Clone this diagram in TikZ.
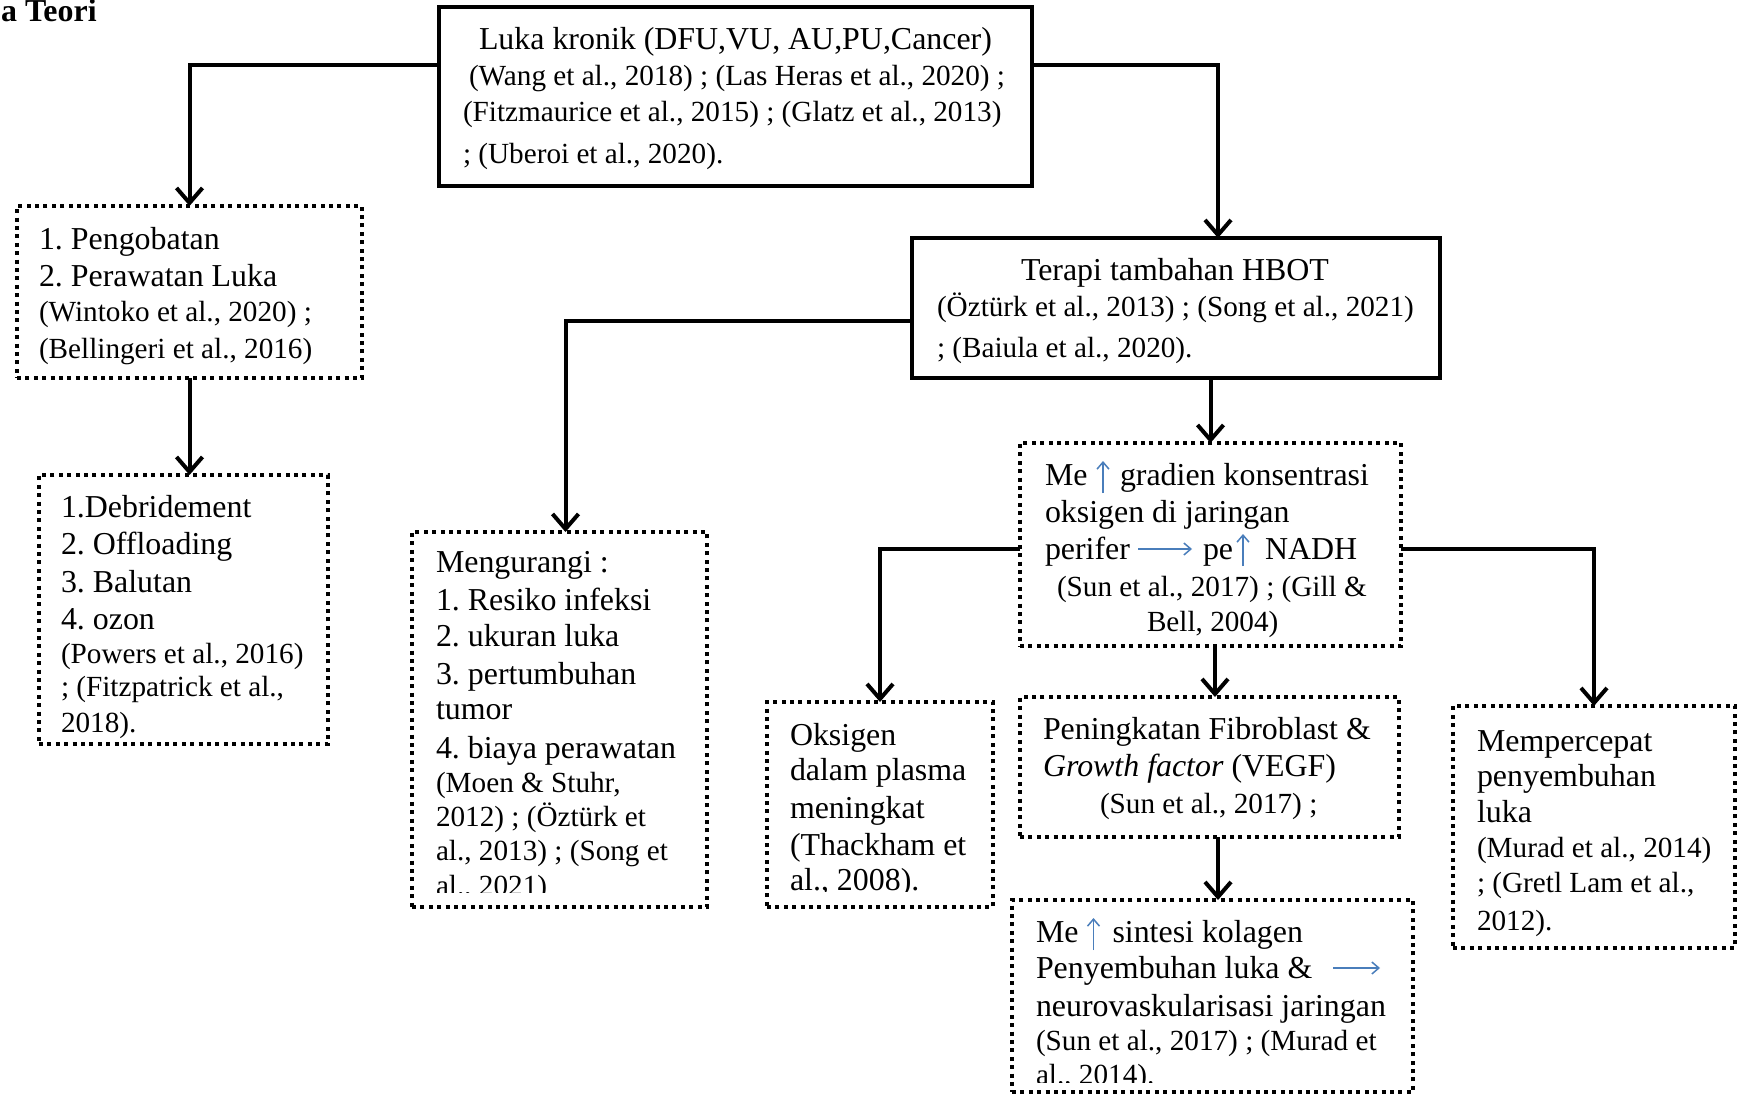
\documentclass[tikz,border=0pt]{standalone}
\usepackage{fontspec}
\setmainfont{Liberation Serif}
\usepackage{graphicx}
\usetikzlibrary{arrows.meta,calc}
\setlength{\parindent}{0pt}
\frenchspacing
\definecolor{arrowblue}{RGB}{74,126,187}
\newcommand{\mainsz}{\fontsize{31.9}{37}\selectfont}
\newcommand{\citesz}{\fontsize{29.2}{34}\selectfont}

\begin{document}
\begin{tikzpicture}[x=1pt,y=-1pt,
  bx/.style={draw, line width=4pt, inner sep=0pt, outer sep=0pt, anchor=north west},
  solidbox/.style={bx},
  dotbox/.style={bx, dash pattern=on 4pt off 4.4pt},
  conn/.style={line width=4pt, -{Straight Barb[length=15pt,width=26pt]}},
  bluearr/.style={draw=arrowblue, line width=1.5pt, -{Straight Barb[length=7pt,width=12pt]}},
  txt/.style={anchor=base west, inner sep=0pt, outer sep=0pt, text width=640pt, align=flush left, font=\mainsz\frenchspacing},
]
\fill[white] (0,0) rectangle (1738,1094);
\useasboundingbox (0,0) rectangle (1738,1094);

% title (cut off in the reference)
\node[anchor=base west, inner sep=0pt, font=\mainsz\bfseries] (title) at (1,22) {a Teori};

% boxes
\node[solidbox, minimum width=593pt, minimum height=179pt] (top) at (439,7) {};
\node[solidbox, minimum width=528pt, minimum height=140pt] (hbot) at (912,238) {};
\node[dotbox, minimum width=345pt, minimum height=172pt] (b1) at (17,206) {};
\node[dotbox, minimum width=289pt, minimum height=269pt] (b2) at (39,475) {};
\node[dotbox, minimum width=295pt, minimum height=375pt] (meng) at (412,532) {};
\node[dotbox, minimum width=381pt, minimum height=203pt] (me) at (1020,443) {};
\node[dotbox, minimum width=226pt, minimum height=205pt] (oks) at (767,702) {};
\node[dotbox, minimum width=379pt, minimum height=140pt] (pen) at (1020,697) {};
\node[dotbox, minimum width=401pt, minimum height=192pt] (sin) at (1012,900) {};
\node[dotbox, minimum width=282pt, minimum height=242pt] (mem) at (1453,706) {};

% texts
\node[txt] (toptext) at (463,50) {\hspace*{16pt}Luka kronik (DFU,VU, AU,PU,Cancer)\\[2pt]
  \citesz\hspace*{6pt}(Wang et al., 2018) ; (Las Heras et al., 2020) ;\\[2pt]
  (Fitzmaurice et al., 2015) ; (Glatz et al., 2013)\\[5pt]
  ; (Uberoi et al., 2020).};

\node[txt] (hbottext) at (937,280) {\hspace*{84pt}Terapi tambahan HBOT\\[2pt]
  \citesz (Öztürk et al., 2013) ; (Song et al., 2021)\\[4pt]
  ; (Baiula et al., 2020).};

\node[txt] (b1text) at (39,250) {1. Pengobatan\\[0pt]
  2. Perawatan Luka\\[1pt]
  \citesz (Wintoko et al., 2020) ;\\
  (Bellingeri et al., 2016)};

\node[txt] (b2text) at (61,517) {1.Debridement\\
  2. Offloading\\[1pt]
  3. Balutan\\
  4. ozon\\[0pt]
  \citesz (Powers et al., 2016)\\[-1pt]
  ; (Fitzpatrick et al.,\\[-1pt]
  2018).};

\begin{scope}
\clip (414,534) rectangle (705,892);
\node[txt] (mengtext) at (436,572) {Mengurangi :\\[1pt]
  1. Resiko infeksi\\[-1pt]
  2. ukuran luka\\[1pt]
  3. pertumbuhan\\[-2pt]
  tumor\\[2pt]
  4. biaya perawatan\\
  \citesz (Moen \& Stuhr,\\
  2012) ; (Öztürk et\\
  al., 2013) ; (Song et\\[-2pt]
  al., 2021)};
\end{scope}

\node[txt] (metext) at (1045,485) {Me\hspace{32.5pt}gradien konsentrasi\\
  oksigen di jaringan\\
  perifer\hspace{73pt}pe\hspace{32pt}NADH\\[3pt]
  \citesz\hspace*{12pt}(Sun et al., 2017) ; (Gill \&\\[-2pt]
  \hspace*{102pt}Bell, 2004)};

\begin{scope}
\clip (769,704) rectangle (991,891);
\node[txt] (okstext) at (790,745) {Oksigen\\[-2pt]
  dalam plasma\\[1pt]
  meningkat\\
  (Thackham et\\[-2pt]
  al., 2008).};
\end{scope}

\node[txt] (pentext) at (1043,739) {Peningkatan Fibroblast \&\\
  \textit{Growth factor} (VEGF)\\[0pt]
  \citesz\hspace*{57pt}(Sun et al., 2017) ;};

\begin{scope}
\clip (1014,902) rectangle (1411,1082);
\node[txt] (sintext) at (1036,942) {Me\hspace{34pt}sintesi kolagen\\[-1pt]
  Penyembuhan luka \&\\[1pt]
  neurovaskularisasi jaringan\\
  \citesz (Sun et al., 2017) ; (Murad et\\[-3pt]
  al., 2014).};
\end{scope}

\node[txt] (memtext) at (1477,751) {Mempercepat\\[-2pt]
  penyembuhan\\[-1pt]
  luka\\[1pt]
  \citesz (Murad et al., 2014)\\[1pt]
  ; (Gretl Lam et al.,\\[1pt]
  2012).};

% blue inline arrows
\draw[bluearr] ($(metext.base west)+(58,8)$) -- ($(metext.base west)+(58,-24)$);
\draw[bluearr] ($(metext.base west)+(93,64)$) -- ($(metext.base west)+(147,64)$);
\draw[bluearr] ($(metext.base west)+(198,81)$) -- ($(metext.base west)+(198,49)$);
\draw[bluearr] ($(sintext.base west)+(57.5,8)$) -- ($(sintext.base west)+(57.5,-24)$);
\draw[bluearr] ($(sintext.base west)+(297,26)$) -- ($(sintext.base west)+(344,26)$);

% connectors
\draw[conn] ([yshift=31.5pt]top.west) -| (b1.north);
\draw[conn] ([yshift=31.5pt]top.east) -| ([xshift=42pt]hbot.north);
\draw[conn] (b1.south) -- (b1.south |- b2.north);
\draw[conn] ([yshift=-13pt]hbot.west) -| ([xshift=6pt]meng.north);
\draw[conn] (hbot.south -| me.north) -- (me.north);
\draw[conn] ([yshift=-4.5pt]me.west) -| (oks.north);
\draw[conn] ([yshift=-4.5pt]me.east) -| (mem.north);
\draw[conn] ([xshift=4.5pt]me.south) -- ([xshift=4.5pt]me.south |- pen.north);
\draw[conn] ([xshift=8.5pt]pen.south) -- ([xshift=8.5pt]pen.south |- sin.north);
\end{tikzpicture}
\end{document}
